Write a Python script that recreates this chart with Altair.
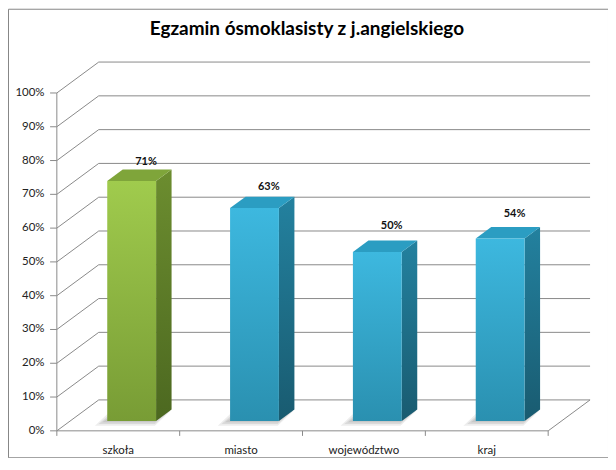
import altair as alt
import pandas as pd

# ---- data ----
categories = ["szkoła", "miasto", "województwo", "kraj"]
values = [71, 63, 50, 54]
highlight = ["g", "b", "b", "b"]          # green for the school, blue for others
tick_values = [0, 10, 20, 30, 40, 50, 60, 70, 80, 90, 100]
tick_labels = [f"{t}%" for t in tick_values]
title_text = "Egzamin ósmoklasisty z j.angielskiego"

# ---- 3D geometry (in scale units) ----
X_DOMAIN = [-0.3976, 4.487]
Y_DOMAIN = [-7.82, 124.93]
DX, DY = 0.341, 9.15      # full depth of the floor / back wall
F0, FD = 0.32, 0.37       # bar front offset and bar depth (fractions of depth)
BW = 0.3976               # bar width (category units)
N = len(categories)

xs = alt.Scale(domain=X_DOMAIN, nice=False, zero=False)
ys = alt.Scale(domain=Y_DOMAIN, nice=False, zero=False)


def X(f):
    return alt.X(f, type="quantitative", scale=xs, axis=None)


def Y(f):
    return alt.Y(f, type="quantitative", scale=ys, axis=None)


GRID = "#8a8a8a"

grid_rows = []
for t in tick_values:
    grid_rows += [
        {"t": t, "o": 0, "x": 0.0, "y": t},
        {"t": t, "o": 1, "x": DX, "y": t + DY},
        {"t": t, "o": 2, "x": N + DX, "y": t + DY},
    ]
grid_df = pd.DataFrame(grid_rows)
grid = alt.Chart(grid_df).mark_line(color=GRID, strokeWidth=1).encode(
    x=X("x"), y=Y("y"), detail="t:N", order="o:Q"
)

floor_df = pd.DataFrame(
    [{"o": 0, "x": 0.0, "y": 0.0}, {"o": 1, "x": float(N), "y": 0.0}, {"o": 2, "x": N + DX, "y": DY}]
)
floor = alt.Chart(floor_df).mark_line(color=GRID, strokeWidth=1).encode(
    x=X("x"), y=Y("y"), order="o:Q"
)

axis_df = pd.DataFrame({"x": [0.0], "y": [0.0], "y2": [100.0]})
axis_line = alt.Chart(axis_df).mark_rule(color=GRID).encode(x=X("x"), y=Y("y"), y2="y2")

ytick_df = pd.DataFrame({"t": tick_values, "lab": tick_labels})
yticks = alt.Chart(ytick_df).mark_rule(color=GRID).transform_calculate(
    xa="-0.055", xb="0"
).encode(x=X("xa:Q"), x2="xb:Q", y=Y("t"))
ylabels = alt.Chart(ytick_df).mark_text(
    align="right", baseline="middle", font="Lato", fontSize=11.5, color="#222222"
).transform_calculate(xl="-0.1").encode(x=X("xl:Q"), y=Y("t"), text="lab:N")

cat_df = pd.DataFrame({"i": list(range(N + 1))})
cticks = alt.Chart(cat_df).mark_rule(color=GRID).transform_calculate(
    ya="0", yb="-1.5"
).encode(x=X("i"), y=Y("ya:Q"), y2="yb:Q")


def grad(c1, c2):
    return alt.Gradient(
        gradient="linear",
        stops=[alt.GradientStop(color=c1, offset=0), alt.GradientStop(color=c2, offset=1)],
        x1=0, x2=0, y1=0, y2=1,
    )


COL = {
    "g": {"front": grad("#a0cb4d", "#789c35"), "side": grad("#6c8d2f", "#4c6820"), "top": "#7fa53a"},
    "b": {"front": grad("#3db8df", "#2a90b0"), "side": grad("#23819f", "#195b70"), "top": "#2b9dc2"},
}

layers = [grid, floor, axis_line, yticks, ylabels, cticks]
bars_rows = []
shadow_layers = []
bar_layers = []
for i, (c, v, g) in enumerate(zip(categories, values, highlight)):
    xl = i + 0.5 - BW / 2 + F0 * DX
    xr = xl + BW
    base = F0 * DY
    top = base + v
    bars_rows.append({"cat": c, "v": v, "g": g, "i": i, "xl": xl, "xr": xr, "base": base, "top": top,
                      "lx": i + 0.5 + 0.226, "ly": 0.9 * v + 15.6})
    # soft shadow on the floor (bar footprint shifted left/forward)
    for sx, sy, op in [(0.10, 1.4, 0.16), (0.07, 0.9, 0.2), (0.04, 0.4, 0.24)]:
        sdf = pd.DataFrame({
            "sy": [base - sy, base + FD * DY - sy * 0.3],
            "sxa": [xl - sx, xl + FD * DX - sx],
            "sxb": [xr - 0.01, xr + FD * DX - 0.01],
        })
        shadow_layers.append(
            alt.Chart(sdf).mark_area(orient="horizontal", color="#8f8f8f", opacity=op).encode(
                y=Y("sy"), x=X("sxa"), x2="sxb"
            )
        )
    side_df = pd.DataFrame({
        "px": [xr, xr + FD * DX],
        "pya": [base, base + FD * DY],
        "pyb": [top, top + FD * DY],
    })
    top_df = pd.DataFrame({
        "qy": [top, top + FD * DY],
        "qxa": [xl, xl + FD * DX],
        "qxb": [xr, xr + FD * DX],
    })
    front_df = pd.DataFrame({"fxa": [xl], "fxb": [xr], "fya": [base], "fyb": [top]})
    bar_layers += [
        alt.Chart(side_df).mark_area(orient="vertical", color=COL[g]["side"]).encode(
            x=X("px"), y=Y("pya"), y2="pyb"
        ),
        alt.Chart(top_df).mark_area(orient="horizontal", color=COL[g]["top"]).encode(
            y=Y("qy"), x=X("qxa"), x2="qxb"
        ),
        alt.Chart(front_df).mark_rect(color=COL[g]["front"]).encode(
            x=X("fxa"), x2="fxb", y=Y("fya"), y2="fyb"
        ),
    ]

layers += shadow_layers + bar_layers
bars_df = pd.DataFrame(bars_rows)

vlabels = alt.Chart(bars_df).transform_calculate(lab="datum.v + '%'").mark_text(
    font="Lato", fontSize=11, fontWeight="bold", color="#111111", baseline="middle"
).encode(x=X("lx"), y=Y("ly"), text="lab:N")

clabels = alt.Chart(bars_df).transform_calculate(cx="datum.i + 0.5", cy="-5.9").mark_text(
    font="Lato", fontSize=11.5, color="#222222", baseline="middle"
).encode(x=X("cx:Q"), y=Y("cy:Q"), text="cat:N")

title_df = pd.DataFrame({"t": [title_text], "x": [2.036], "y": [119.0]})
title = alt.Chart(title_df).mark_text(
    font="Lato", fontSize=19, fontWeight="bold", color="#000000", baseline="middle"
).encode(x=X("x"), y=Y("y"), text="t:N")

layers += [vlabels, clabels, title]

chart = alt.layer(*layers).properties(
    width=602, height=450, padding=0, autosize=alt.AutoSizeParams(type="none"),
    background="white",
).configure_view(stroke="#868686", strokeWidth=1)

chart.save("out.html", embed_options={"renderer": "svg", "actions": False})
